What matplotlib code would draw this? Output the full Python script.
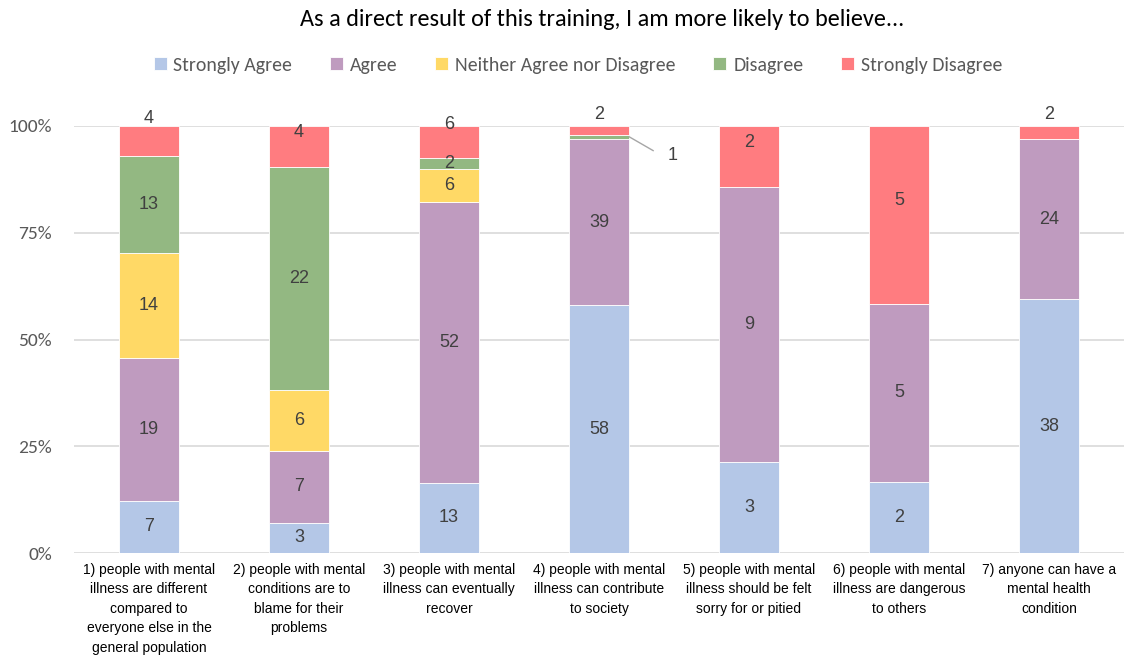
import matplotlib
matplotlib.use("Agg")
import matplotlib.pyplot as plt
import numpy as np

categories = [
    "1) people with mental\nillness are different\ncompared to\neveryone else in the\ngeneral population",
    "2) people with mental\nconditions are to\nblame for their\nproblems",
    "3) people with mental\nillness can eventually\nrecover",
    "4) people with mental\nillness can contribute\nto society",
    "5) people with mental\nillness should be felt\nsorry for or pitied",
    "6) people with mental\nillness are dangerous\nto others",
    "7) anyone can have a\nmental health\ncondition",
]
series_names = ["Strongly Agree", "Agree", "Neither Agree nor Disagree", "Disagree", "Strongly Disagree"]
strongly_agree = [7, 3, 13, 58, 3, 2, 38]
agree = [19, 7, 52, 39, 9, 5, 24]
neither = [14, 6, 6, 0, 0, 0, 0]
disagree = [13, 22, 2, 1, 0, 0, 0]
strongly_disagree = [4, 4, 6, 2, 2, 5, 2]
title = "As a direct result of this training, I am more likely to believe..."
yticks_labels = ["0%", "25%", "50%", "75%", "100%"]

colors = ["#B4C7E7", "#BF9BBF", "#FFD966", "#93B882", "#FF7C80"]

label_font = ["Liberation Sans Narrow", "Liberation Sans", "DejaVu Sans"]
head_font = ["Carlito", "Lato", "DejaVu Sans"]

data = np.array([strongly_agree, agree, neither, disagree, strongly_disagree], dtype=float)
totals = data.sum(axis=0)
frac = data / totals

fig = plt.figure(figsize=(11.26, 6.66), dpi=100)
ax = fig.add_axes([74/1126, 113/666, 1050/1126, 427/666])

x = np.arange(len(categories))
bottom = np.zeros(len(categories))
handles = []
dl_size = 13
for i, name in enumerate(series_names):
    b = ax.bar(x, frac[i], 0.4, bottom=bottom, color=colors[i], edgecolor="white",
               linewidth=0.6, label=name, zorder=3)
    handles.append(b)
    for j in range(len(categories)):
        v = data[i, j]
        if v <= 0:
            continue
        yc = bottom[j] + frac[i, j] / 2
        if i == 4:
            if frac[i, j] < 0.04:
                yc = 1.0 + 0.027
            elif frac[i, j] < 0.09:
                if j == 0:
                    yc = 1.0 + 0.017
                elif j == 1:
                    yc = 1.0 - 0.002
                else:
                    yc = 1.0 + 0.004
            else:
                yc = bottom[j] + frac[i, j] / 2 + 0.033
        if i == 3 and j == 3:
            ax.annotate(str(int(v)), xy=(j + 0.2, yc), xytext=(j + 0.49, yc - 0.045),
                        ha="center", va="center", fontsize=dl_size, family=label_font, color="#404040",
                        arrowprops=dict(arrowstyle="-", color="#A6A6A6", lw=1,
                                        connectionstyle="angle,angleA=0,angleB=-30,rad=0",
                                        shrinkA=9, shrinkB=0),
                        zorder=5)
            continue
        ax.text(j, yc, str(int(v)), ha="center", va="center", fontsize=dl_size,
                family=label_font, color="#404040", zorder=5)
    bottom += frac[i]

ax.set_xlim(-0.5, len(categories) - 0.5)
ax.set_ylim(0, 1)
ax.set_yticks([0, 0.25, 0.5, 0.75, 1.0])
ax.set_yticklabels(yticks_labels, family=head_font, fontsize=14, color="#595959")
ax.set_xticks(x)
ax.set_xticklabels(categories, family=label_font, fontsize=10, color="#000000", linespacing=1.5)
ax.tick_params(axis="both", length=0)
ax.tick_params(axis="y", pad=16)
ax.tick_params(axis="x", pad=7)
for s in ax.spines.values():
    s.set_visible(False)
ax.grid(axis="y", color="#D9D9D9", linewidth=1.2, zorder=0)
ax.set_axisbelow(True)

fig.text(602/1126, 1 - 19/666, title, ha="center", va="center", fontsize=17.5, family=head_font, color="#000000")
fig.legend(handles=handles, labels=series_names, loc="center", bbox_to_anchor=(578/1126, 1 - 65/666),
           ncol=5, frameon=False, prop={"family": head_font, "size": 14.3},
           handlelength=0.65, handleheight=0.65, handletextpad=0.35, columnspacing=1.9,
           labelcolor="#595959")

fig.savefig("out.png", dpi=100)
